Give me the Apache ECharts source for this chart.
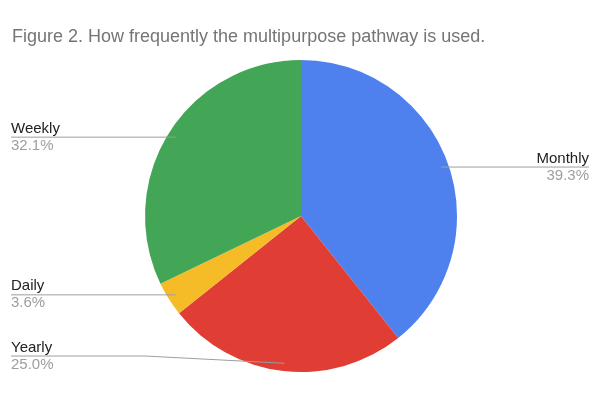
<!DOCTYPE html>
<html>
<head>
<meta charset="utf-8">
<script src="https://cdn.jsdelivr.net/npm/echarts@6/dist/echarts.min.js"></script>
<style>
  html, body { margin: 0; padding: 0; background: #fff; }
  #chart { width: 600px; height: 400px; }
</style>
</head>
<body>
<div id="chart"></div>
<script>
// survey answers (28 responses)
var categories = ['Monthly', 'Yearly', 'Daily', 'Weekly'];
var responses = [11, 7, 1, 9];
var sliceColors = ['#4e81ee', '#e03d34', '#f5bc27', '#42a656'];

var PIE_CX = 301;
var PIE_CY = 216;
var PIE_R = 156;
var FONT = "'Liberation Sans', Arial, sans-serif";

var chart = echarts.init(document.getElementById('chart'));

var pieBase = {
  type: 'pie',
  center: [PIE_CX, PIE_CY],
  radius: PIE_R,
  startAngle: 90,
  clockwise: true,
  animation: false
};

var option = {
  animation: false,
  title: {
    text: 'Figure 2. How frequently the multipurpose pathway is used.',
    left: 12,
    top: 28,
    padding: 0,
    textStyle: { fontFamily: FONT, fontSize: 18, fontWeight: 'normal', color: '#757575' }
  },
  series: [
    // the slices
    Object.assign({}, pieBase, {
      z: 2,
      label: { show: false },
      labelLine: { show: false },
      data: categories.map(function (name, i) {
        return { name: name, value: responses[i], itemStyle: { color: sliceColors[i] } };
      })
    }),
    // same pie, invisible, only to draw labels + lines on top of the slices
    Object.assign({}, pieBase, {
      z: 5,
      silent: true,
      itemStyle: { color: 'rgba(0,0,0,0)' },
      data: categories.map(function (name, i) {
        return { name: name, value: responses[i] };
      }),
      label: {
        show: true,
        position: 'outside',
        alignTo: 'edge',
        edgeDistance: 11,
        formatter: function (p) {
          return '{n|' + p.name + '}\n{p|' + p.percent.toFixed(1) + '%}';
        },
        rich: {
          n: { fontFamily: FONT, fontSize: 15, color: '#222', lineHeight: 17 },
          p: { fontFamily: FONT, fontSize: 15, color: '#9e9e9e', lineHeight: 17 }
        }
      },
      labelLine: {
        show: true,
        length: 5,
        length2: 10,
        lineStyle: { color: '#9e9e9e', width: 1 }
      },
      // sheets style: line starts just inside the slice and runs under the label
      labelLayout: function (params) {
        var pts = params.labelLinePoints;
        var rect = params.labelRect;
        if (!pts) return {};
        var isLeft = rect.x + rect.width / 2 < PIE_CX;
        var dot = [PIE_CX + (pts[0][0] - PIE_CX) * 0.95, PIE_CY + (pts[0][1] - PIE_CY) * 0.95];
        var half = rect.height / 2;
        var y = Math.min(Math.max(dot[1], PIE_CY - PIE_R + half), PIE_CY + PIE_R - half);
        var dy = y - (rect.y + half);
        var bendX = isLeft ? PIE_CX - PIE_R : PIE_CX + PIE_R;
        var endX = isLeft ? rect.x : rect.x + rect.width;
        return { dy: dy, labelLinePoints: [dot, [bendX, y], [endX, y]] };
      }
    })
  ]
};

chart.setOption(option);
</script>
</body>
</html>
